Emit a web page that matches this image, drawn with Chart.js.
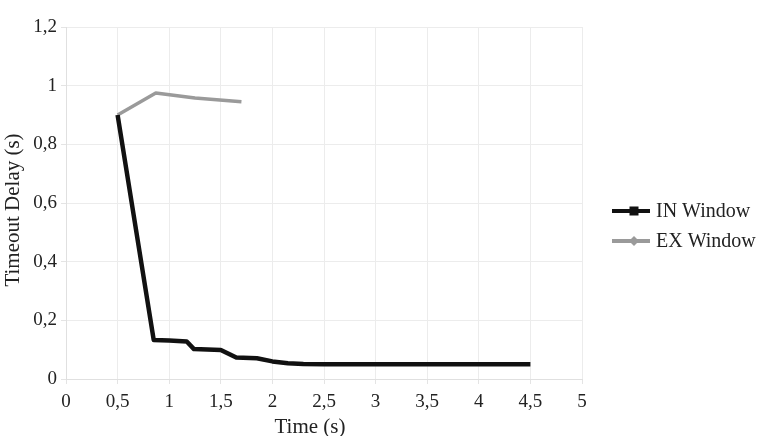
<!DOCTYPE html>
<html lang="en">
<head>
  <meta charset="UTF-8" />
  <title>Timeout Delay</title>
  <script src="https://cdn.jsdelivr.net/npm/chart.js"></script>
  <style>
    html, body { margin:0; padding:0; background:#fff; }
    #wrap { width:782px; height:436px; }
  </style>
</head>
<body>
<div id="wrap"><canvas id="chart"></canvas></div>

<script>
/* ====== data ====== */
const inTime   = [0.5, 0.85, 1.0, 1.17, 1.24, 1.5, 1.65, 1.85, 2.0, 2.15, 2.3, 2.5, 4.5];
const inDelay  = [0.9, 0.133, 0.131, 0.128, 0.102, 0.099, 0.073, 0.071, 0.06, 0.054, 0.051, 0.05, 0.05];
const exTime   = [0.5, 0.87, 1.25, 1.7];
const exDelay  = [0.9, 0.975, 0.958, 0.945];
const seriesNames = ['IN Window', 'EX Window'];
const xTicks = [0, 0.5, 1, 1.5, 2, 2.5, 3, 3.5, 4, 4.5, 5];
const yTicks = [0, 0.2, 0.4, 0.6, 0.8, 1, 1.2];
const xTitle = 'Time (s)';
const yTitle = 'Timeout Delay (s)';

const FONT = "'Liberation Serif', 'Times New Roman', serif";
const comma = v => String(Number(v.toFixed(2))).replace('.', ',');
const pts = (xs, ys) => xs.map((x, i) => ({x, y: ys[i]}));

/* axis titles + legend drawn by hand, placed like the office chart */
const extrasPlugin = {
  id: 'extras',
  afterDraw(chart) {
    const c = chart.ctx;
    c.save();
    c.fillStyle = '#222';
    c.font = '21px ' + FONT;
    c.textAlign = 'center'; c.textBaseline = 'middle';
    c.fillText(xTitle, 310, 427);
    c.translate(13, 210); c.rotate(-Math.PI / 2);
    c.fillText(yTitle, 0, 0);
    c.restore();

    const items = [
      {name: seriesNames[0], color: '#111', width: 4, mark: 'square'},
      {name: seriesNames[1], color: '#9a9a9a', width: 4, mark: 'diamond'}
    ];
    c.save();
    items.forEach((it, i) => {
      const y = 211 + i * 30, x0 = 612, x1 = 650, xm = (x0 + x1) / 2 + 3;
      c.strokeStyle = it.color; c.lineWidth = it.width;
      c.beginPath(); c.moveTo(x0, y); c.lineTo(x1, y); c.stroke();
      c.fillStyle = it.color;
      if (it.mark === 'square') c.fillRect(xm - 4.5, y - 4.5, 9, 9);
      else { c.beginPath(); c.moveTo(xm, y - 5); c.lineTo(xm + 5, y); c.lineTo(xm, y + 5); c.lineTo(xm - 5, y); c.closePath(); c.fill(); }
      c.fillStyle = '#222'; c.font = '20px ' + FONT; c.textBaseline = 'middle'; c.textAlign = 'left';
      c.fillText(it.name, 656, y + 1);
    });
    c.restore();
  }
};

new Chart(document.getElementById('chart'), {
  type: 'line',
  data: {
    datasets: [
      { label: seriesNames[0], data: pts(inTime, inDelay), borderColor: '#111', backgroundColor: '#111',
        borderWidth: 4.5, pointRadius: 0, tension: 0, borderJoinStyle: 'round', borderCapStyle: 'butt' },
      { label: seriesNames[1], data: pts(exTime, exDelay), borderColor: '#9a9a9a', backgroundColor: '#9a9a9a',
        borderWidth: 3.5, pointRadius: 0, tension: 0, borderJoinStyle: 'round' }
    ]
  },
  options: {
    responsive: true,
    maintainAspectRatio: false,
    animation: false,
    layout: { padding: { top: 27, right: 200, left: 0, bottom: 0 } },
    plugins: { legend: { display: false }, tooltip: { enabled: false } },
    scales: {
      x: {
        type: 'linear', min: 0, max: 5,
        afterBuildTicks: s => { s.ticks = xTicks.map(v => ({value: v})); },
        afterFit: s => { s.height = 57; },
        grid: { color: '#ececec', drawTicks: true, tickLength: 5, tickColor: '#e4e4e4' },
        border: { color: '#e0e0e0' },
        ticks: { color: '#222', font: { family: FONT, size: 19 }, padding: 7, callback: v => comma(v), maxRotation: 0 }
      },
      y: {
        min: 0, max: 1.2,
        afterBuildTicks: s => { s.ticks = yTicks.map(v => ({value: v})); },
        afterFit: s => { s.width = 66; },
        grid: { color: '#ececec', drawTicks: true, tickLength: 5, tickColor: '#e4e4e4' },
        border: { color: '#e0e0e0' },
        ticks: { color: '#222', font: { family: FONT, size: 19 }, padding: 4, callback: v => comma(v) }
      }
    }
  },
  plugins: [extrasPlugin]
});
</script>
</body>
</html>
